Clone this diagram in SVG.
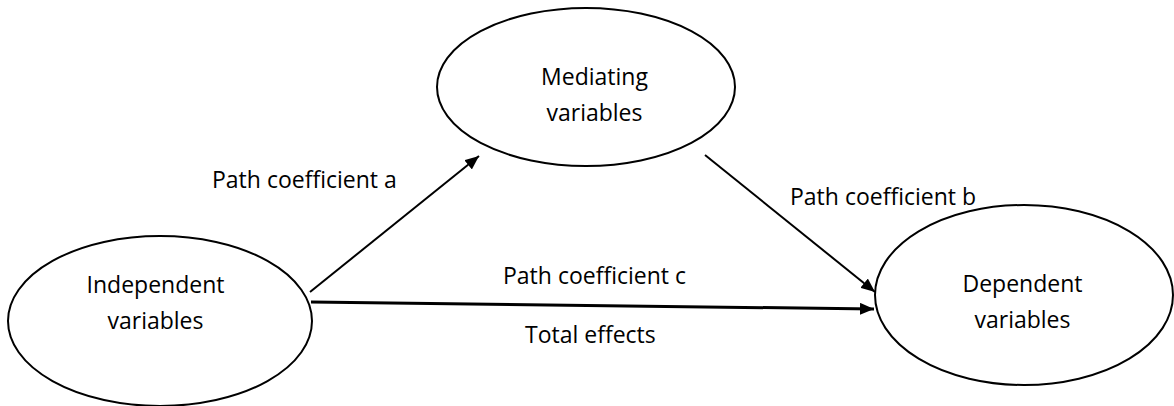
<svg xmlns="http://www.w3.org/2000/svg" width="1174" height="406" viewBox="0 0 1174 406">
<style>
.node{fill:#fff;stroke:#000;stroke-width:2}
text{font-family:"Open Sans","Liberation Sans",sans-serif;font-size:23px;fill:#000}
.c{text-anchor:middle}
.edge{stroke:#000;fill:none}
</style>
<defs>
<marker id="ah" viewBox="0 0 14 12" refX="14" refY="6" markerWidth="14" markerHeight="12" markerUnits="userSpaceOnUse" orient="auto">
<path d="M0,0 L14,6 L0,12 z" fill="#000"/>
</marker>
</defs>
<g id="independent">
<ellipse class="node" cx="160" cy="321" rx="152" ry="85"/>
<text class="c" x="155.5" y="293">Independent</text>
<text class="c" x="155.5" y="329">variables</text>
</g>
<g id="mediating">
<ellipse class="node" cx="586" cy="87" rx="149" ry="79"/>
<text class="c" x="594.5" y="85">Mediating</text>
<text class="c" x="594.5" y="121">variables</text>
</g>
<g id="dependent">
<ellipse class="node" cx="1024" cy="295" rx="149" ry="90"/>
<text class="c" x="1022.5" y="292">Dependent</text>
<text class="c" x="1022.5" y="328">variables</text>
</g>
<g id="connectors">
<line class="edge" x1="310" y1="292" x2="479" y2="156" stroke-width="2" marker-end="url(#ah)"/>
<line class="edge" x1="705" y1="155" x2="875" y2="292" stroke-width="2" marker-end="url(#ah)"/>
<line class="edge" x1="311" y1="302" x2="874" y2="309" stroke-width="3" marker-end="url(#ah)"/>
<text x="212" y="188">Path coefficient a</text>
<text x="790" y="205">Path coefficient b</text>
<text x="503" y="284">Path coefficient c</text>
<text x="525" y="343">Total effects</text>
</g>
</svg>
